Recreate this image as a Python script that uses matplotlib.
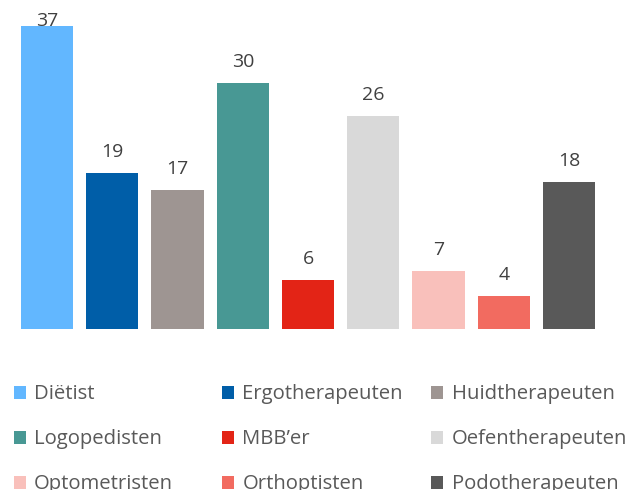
import matplotlib.pyplot as plt
from matplotlib.patches import Rectangle

categories = ['Diëtist', 'Ergotherapeuten', 'Huidtherapeuten',
              'Logopedisten', 'MBB’er', 'Oefentherapeuten',
              'Optometristen', 'Orthoptisten', 'Podotherapeuten']
values = [37, 19, 17, 30, 6, 26, 7, 4, 18]
colors = ['#62B7FF', '#005EA8', '#9E9592', '#489894', '#E32416',
          '#D9D9D9', '#F9C0BB', '#F26B60', '#595959']

W, H = 632, 490
fig = plt.figure(figsize=(W / 100, H / 100), dpi=100)
plt.rcParams['font.family'] = ['Open Sans', 'DejaVu Sans']

# plot area in pixels
left, right, base = 14.4, 601.6, 328.7
ax = fig.add_axes([left / W, (H - base) / H, (right - left) / W, base / H])
ymax = 40.2

x = range(len(values))
ax.bar(x, values, width=0.8, color=colors)
ax.set_xlim(-0.5, len(values) - 0.5)
ax.set_ylim(0, ymax)
ax.axis('off')

# value labels, the tallest one sits right on its bar (no room above)
for xi, v in zip(x, values):
    off = 0 if v + 3.5 > ymax else 11.5
    ax.annotate(str(v), (xi, v), xytext=(0, off), textcoords='offset points',
                ha='center', va='baseline', fontsize=14, color='#404040')

# legend laid out in a 3-column grid like the original
col_x = [13.5, 222, 431]
row_y = [392, 437, 482]
sq_w, sq_h = 12, 13
for i, (name, c) in enumerate(zip(categories, colors)):
    r, k = divmod(i, 3)
    px, py = col_x[k], row_y[r]
    fig.patches.append(Rectangle((px / W, (H - py - sq_h / 2) / H), sq_w / W, sq_h / H,
                                 transform=fig.transFigure, facecolor=c,
                                 edgecolor='none'))
    fig.text((px + 20.5) / W, (H - py - 7) / H, name, ha='left', va='baseline',
             fontsize=14.6, color='#595959')

fig.savefig('out.png', dpi=100)
